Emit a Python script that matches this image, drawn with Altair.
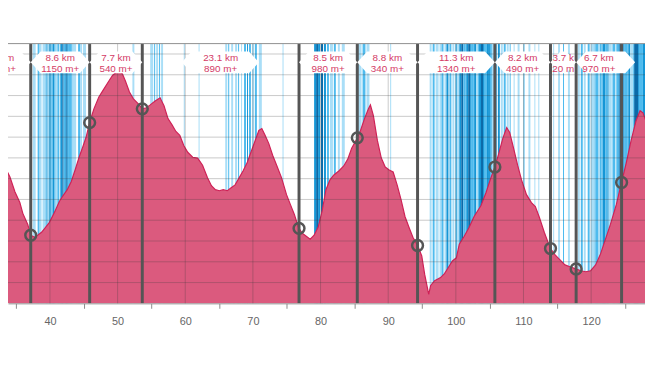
import altair as alt
import numpy as np
import pandas as pd

# ---------------- data ----------------
profile_km = [32.50, 33.36, 34.09, 34.82, 35.55, 35.99, 36.72, 37.16, 37.74, 38.18,
              38.76, 39.35, 39.93, 40.66, 41.39, 41.83, 42.56, 43.14, 43.72, 44.31,
              44.89, 45.33, 45.91, 46.50, 47.23, 47.96, 48.69, 49.27, 49.86, 50.29,
              50.73, 51.17, 51.75, 52.34, 53.07, 53.65, 54.24, 54.82, 55.55, 56.28,
              56.86, 57.45, 58.03, 58.62, 59.20, 59.78, 60.37, 61.10, 61.83, 62.56,
              63.29, 63.87, 64.45, 65.04, 65.62, 66.21, 66.79, 67.37, 67.96, 68.54,
              69.13, 69.71, 70.29, 70.88, 71.32, 71.75, 72.34, 72.92, 73.51, 74.24,
              74.97, 75.55, 76.13, 76.72, 77.30, 77.89, 78.47, 79.05, 79.64, 80.22,
              80.80, 81.39, 81.97, 82.70, 83.43, 84.02, 84.60, 85.33, 85.91, 86.50,
              87.08, 87.37, 87.81, 88.40, 88.98, 89.56, 90.15, 90.73, 91.32, 91.90,
              92.48, 93.07, 93.65, 94.38, 94.96, 95.40, 95.99, 96.28, 96.86, 97.74,
              98.32, 99.05, 99.49, 100.08, 100.51, 101.24, 101.97, 102.70, 103.72, 104.45,
              105.18, 105.77, 106.35, 106.94, 107.52, 107.96, 108.54, 109.13, 109.71, 110.44,
              111.17, 111.75, 112.34, 113.07, 113.94, 114.67, 115.40, 116.13, 116.86, 117.74,
              118.47, 119.20, 119.93, 120.66, 121.39, 122.12, 122.85, 123.72, 124.45, 125.18,
              125.91, 126.64, 127.23, 127.66, 127.96, 128.40]
profile_ele = [670, 656, 608, 537, 485, 433, 380, 328, 318, 328,
               342, 366, 390, 437, 490, 513, 547, 585, 642, 703,
               756, 798, 875, 936, 993, 1031, 1069, 1098, 1112, 1117,
               1103, 1069, 1017, 984, 960, 936, 941, 955, 974, 989,
               951, 889, 860, 827, 808, 760, 727, 703, 699, 665,
               604, 566, 547, 542, 547, 542, 556, 570, 604, 637,
               675, 727, 779, 832, 841, 813, 770, 713, 665, 604,
               523, 475, 428, 366, 337, 323, 309, 328, 366, 442,
               547, 594, 618, 637, 661, 694, 746, 789, 832, 889,
               936, 955, 903, 784, 699, 656, 642, 632, 570, 499,
               418, 366, 318, 276, 228, 138, 43, 86, 109, 124,
               143, 181, 204, 219, 285, 323, 366, 418, 471, 532,
               604, 656, 722, 794, 846, 822, 746, 665, 594, 523,
               485, 466, 414, 342, 266, 233, 209, 185, 176, 166,
               157, 152, 157, 185, 238, 309, 380, 475, 575, 675,
               784, 879, 927, 917, 889, 850]

stage_km = [27.9, 37.16, 45.87, 53.65, 76.82, 85.43, 94.34, 105.77, 113.99, 117.78, 124.50]
seg_dist = ["9.2 km", "8.6 km", "7.7 km", "23.1 km", "8.5 km", "8.8 km",
            "11.3 km", "8.2 km", "3.7 km", "6.7 km"]
seg_gain = ["980 m+", "1150 m+", "540 m+", "890 m+", "980 m+", "340 m+",
            "1340 m+", "490 m+", "20 m+", "970 m+"]
box_from = [26.8, 37.16, 45.87, 59.49, 76.82, 85.43, 94.34, 105.77, 113.99, 117.78]
box_to = [37.16, 45.87, 53.65, 70.88, 85.43, 94.34, 105.77, 113.99, 117.78, 126.50]

stripe_from = [37.45, 38.18, 38.47, 38.91, 39.49, 39.78, 40.37, 40.81, 41.10, 41.53,
               41.97, 42.41, 42.70, 43.29, 44.16, 44.89,
               52.19, 54.82, 55.40, 55.70, 56.13, 56.43, 59.78, 61.97,
               65.91, 66.35, 66.79, 67.37, 67.81, 68.25, 68.69, 69.13, 69.42, 69.86,
               70.29, 70.88, 74.38,
               79.05, 79.35, 79.64, 80.07, 80.51, 80.95, 81.39, 81.97, 82.56, 83.14,
               85.48, 86.21, 86.79, 90.29,
               96.13, 96.57, 97.01, 97.59, 97.88, 98.32, 98.61, 99.05, 99.49, 99.93,
               100.22, 100.51, 100.80, 101.10, 101.53, 101.83, 102.26, 102.70, 102.99, 103.43,
               103.72, 104.16, 104.60, 105.04, 105.33, 105.77, 106.21, 106.64, 107.08, 107.52,
               107.96, 108.54, 109.13, 110.00, 110.73, 111.61, 112.19,
               114.38, 115.11, 115.84, 116.57,
               118.03, 118.47, 118.91, 119.49, 119.93, 120.66, 121.24, 121.68, 122.12, 122.56,
               123.14, 123.72, 124.16, 124.89, 125.48, 125.77, 126.35, 127.08, 127.66,
               39.35, 40.22, 40.66, 41.83, 42.26, 42.56, 43.14, 44.46,
               101.39, 102.12, 102.56, 103.29, 104.02, 104.45, 104.89,
               120.51, 121.53, 122.41, 122.99, 124.02, 124.75, 125.33, 126.21, 126.94, 127.52]
stripe_to = [37.89, 38.47, 38.76, 39.35, 39.64, 40.22, 40.66, 41.10, 41.39, 41.83,
             42.26, 42.56, 43.14, 43.87, 44.46, 45.33,
             52.48, 55.26, 55.55, 55.99, 56.28, 56.72, 59.93, 62.12,
             66.21, 66.50, 67.08, 67.67, 67.96, 68.40, 68.98, 69.27, 69.71, 70.15,
             70.59, 71.32, 74.53,
             79.35, 79.64, 79.93, 80.37, 80.80, 81.24, 81.83, 82.26, 82.85, 83.58,
             86.06, 86.64, 87.23, 90.44,
             96.42, 96.86, 97.45, 97.88, 98.18, 98.61, 98.91, 99.34, 99.78, 100.22,
             100.51, 100.80, 101.10, 101.39, 101.83, 102.12, 102.56, 102.99, 103.29, 103.72,
             104.02, 104.45, 104.89, 105.33, 105.62, 106.06, 106.50, 106.94, 107.37, 107.81,
             108.10, 108.69, 109.42, 110.15, 111.02, 111.75, 112.34,
             114.53, 115.40, 115.99, 116.86,
             118.32, 118.76, 119.20, 119.78, 120.51, 121.09, 121.53, 122.12, 122.41, 122.99,
             123.58, 124.02, 124.75, 125.33, 125.77, 126.21, 126.94, 127.52, 127.96,
             39.49, 40.37, 40.81, 41.97, 42.41, 42.70, 43.29, 44.75,
             101.53, 102.26, 102.70, 103.43, 104.16, 104.60, 105.04,
             120.66, 121.68, 122.56, 123.14, 124.16, 124.89, 125.48, 126.35, 127.08, 127.66]
stripe_shade = [0, 1, 0, 0, 2, 1, 2, 0, 1, 2,
                1, 3, 1, 0, 1, 0,
                0, 0, 1, 0, 1, 0, 0, 0,
                0, 1, 0, 0, 1, 0, 1, 2, 1, 0,
                1, 0, 0,
                2, 3, 2, 3, 2, 1, 0, 1, 0, 0,
                0, 1, 0, 0,
                0, 1, 0, 0, 1, 0, 2, 1, 0, 1,
                0, 2, 3, 1, 2, 3, 1, 2, 0, 2,
                3, 1, 2, 1, 0, 1, 2, 0, 1, 0,
                1, 0, 0, 1, 0, 0, 0,
                0, 0, 1, 0,
                0, 1, 0, 1, 0, 1, 1, 2, 1, 0,
                1, 1, 3, 1, 2, 0, 3, 1, 2,
                1, 1, 1, 3, 2, 2, 1, 0,
                1, 2, 1, 1, 2, 1, 2,
                1, 1, 2, 0, 2, 2, 1, 1, 2, 1]

x_ticks = list(range(35, 130, 5))
grid_x = list(range(40, 130, 10))
grid_y = list(range(100, 1300, 100))

# ---------------- styling constants ----------------
X_DOMAIN = [33.8, 127.96]
Y_DOMAIN = [0, 1250]
BAND_TOP, BAND_MID, BAND_BOTTOM = 1212, 1160, 1107
TEXT_Y = 1182
TIP = 1.46
W, H = 645, 263
FONT = "Liberation Sans"

xs = alt.Scale(domain=X_DOMAIN, nice=False, zero=False)
ys = alt.Scale(domain=Y_DOMAIN, nice=False, zero=False)
x_axis = alt.Axis(
    values=x_ticks, grid=False, title=None,
    labelExpr="datum.value % 10 === 0 ? datum.label : ''",
    tickOpacity={"condition": {"test": "datum.value % 10 === 0", "value": 0}, "value": 1},
    tickSize=5, tickColor="#8a8a8a", domainColor="#8a8a8a",
    labelColor="#666666", labelFont=FONT, labelFontSize=11, labelPadding=7,
    labelOverlap=False, labelFlush=False,
)


def X(field):
    return alt.X(field, type="quantitative", scale=xs, axis=x_axis)


def Y(field):
    return alt.Y(field, type="quantitative", scale=ys, axis=None)


# ---------------- tables ----------------
prof = pd.DataFrame({"km": profile_km, "ele": profile_ele})
stages = pd.DataFrame({"km": stage_km})
stages["ele"] = np.interp(stages["km"], profile_km, profile_ele)

labels = pd.DataFrame({
    "mid": [(stage_km[i] + stage_km[i + 1]) / 2 for i in range(len(seg_dist))],
    "txt": [d + "\n" + g for d, g in zip(seg_dist, seg_gain)],
    "narrow": [(stage_km[i + 1] - stage_km[i]) < 5 for i in range(len(seg_dist))],
})
labels["y"] = TEXT_Y

rows = []
for i, (a, b) in enumerate(zip(box_from, box_to)):
    rows += [
        {"seg": i, "x": a, "top": BAND_MID, "bot": BAND_MID},
        {"seg": i, "x": a + TIP, "top": BAND_TOP, "bot": BAND_BOTTOM},
        {"seg": i, "x": b - TIP, "top": BAND_TOP, "bot": BAND_BOTTOM},
        {"seg": i, "x": b, "top": BAND_MID, "bot": BAND_MID},
    ]
boxes = pd.DataFrame(rows)

stripes = pd.DataFrame({"a": stripe_from, "b": stripe_to, "shade": stripe_shade})

# ---------------- layers ----------------
stripe_layer = alt.Chart(stripes).mark_rect(clip=True, opacity=1).encode(
    x=X("a"), x2="b",
    color=alt.Color("shade:O", legend=None,
                    scale=alt.Scale(domain=[0, 1, 2, 3],
                                    range=["#a9def7", "#4fbbee", "#1596d6", "#0b6aa8"])),
)

area_layer = alt.Chart(prof).mark_area(
    clip=True, color="#db5a7e", opacity=1, fillOpacity=1,
    line={"color": "#cf2257", "strokeWidth": 1.2}
).encode(x=X("km"), y=Y("ele"))

grid_h = alt.Chart(pd.DataFrame({"g": grid_y})).mark_rule(
    color="#3a3a3a", opacity=0.28, strokeWidth=1
).encode(y=Y("g"))

grid_v = alt.Chart(pd.DataFrame({"g": grid_x})).mark_rule(
    color="#3a3a3a", opacity=0.28, strokeWidth=1
).encode(x=X("g"))

stage_lines = alt.Chart(stages).mark_rule(
    clip=True, color="#555555", strokeWidth=3
).encode(x=X("km"))

circles = alt.Chart(stages).mark_point(
    clip=True, shape="circle", filled=False, size=120, color="#555555", strokeWidth=2.5, opacity=1
).encode(x=X("km"), y=Y("ele"))

box_layer = alt.Chart(boxes).mark_area(
    clip=True, color="white", opacity=1, fillOpacity=1
).encode(x=X("x"), y=Y("top"), y2="bot", detail="seg:N")

text_wide = alt.Chart(labels).transform_filter("!datum.narrow").mark_text(
    font=FONT, fontSize=10, color="#d43a66", lineBreak="\n", lineHeight=11,
    align="center", baseline="middle"
).encode(x=X("mid"), y=Y("y"), text="txt:N")

text_narrow = alt.Chart(labels).transform_filter("datum.narrow").mark_text(
    font=FONT, fontSize=10, color="#d43a66", lineBreak="\n", lineHeight=11,
    align="center", baseline="middle", limit=27, ellipsis="\u200b"
).encode(x=X("mid"), y=Y("y"), text="txt:N")

frame = alt.Chart(pd.DataFrame({"t": [Y_DOMAIN[1]]})).mark_rule(
    color="#8f8f8f", strokeWidth=1
).encode(y=Y("t"))

chart = alt.layer(
    stripe_layer, area_layer, grid_h, grid_v, stage_lines, circles,
    box_layer, text_wide, text_narrow, frame
).properties(
    width=W, height=H, autosize="none",
    padding={"left": 0, "top": 34, "right": 0, "bottom": 30},
).configure_view(stroke=None)

chart.save("out.html", embed_options={"renderer": "svg", "actions": False})
